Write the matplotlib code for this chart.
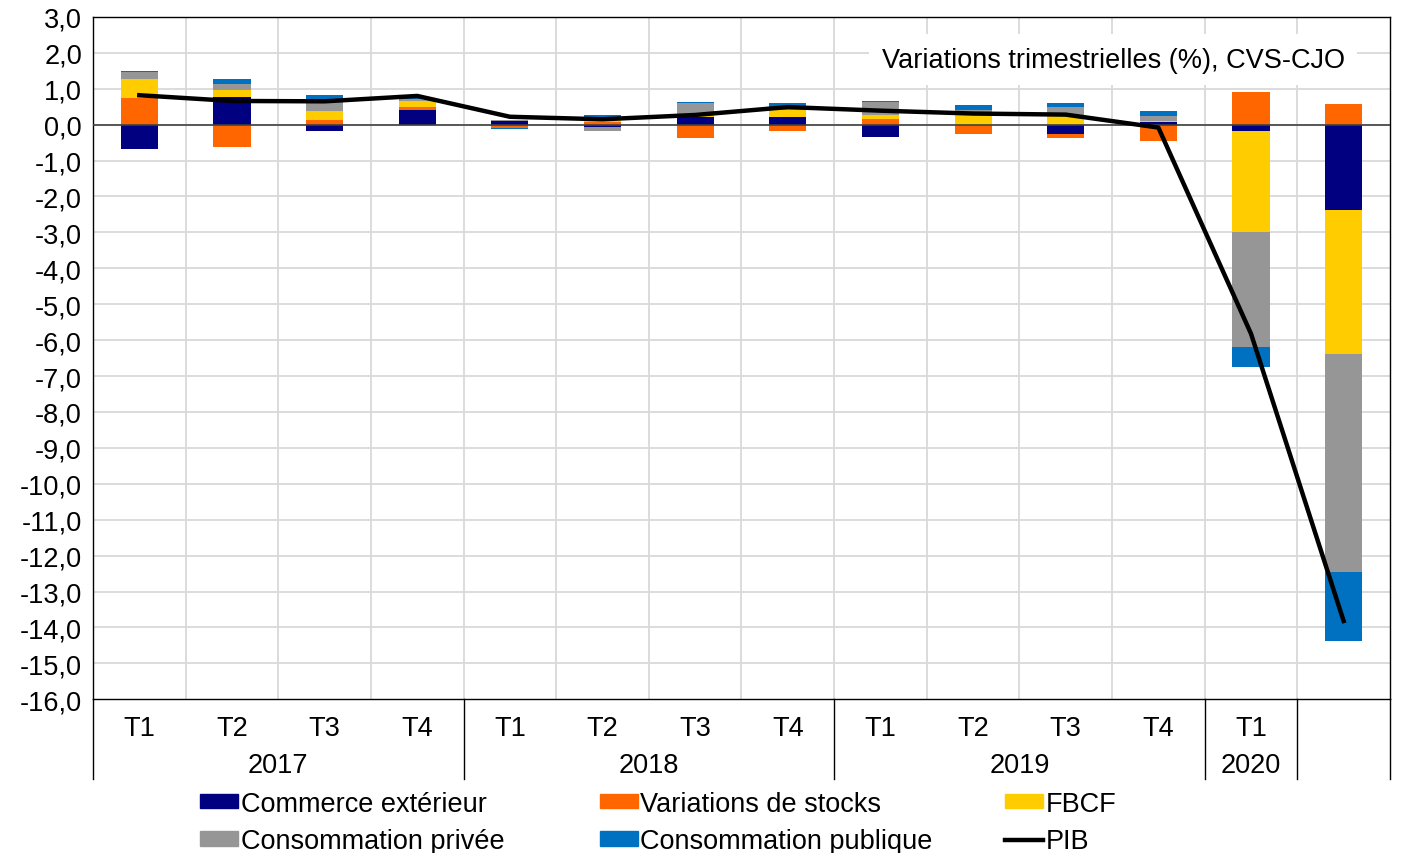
import numpy as np
import matplotlib
matplotlib.use("Agg")
import matplotlib.pyplot as plt
from matplotlib.patches import Patch
from matplotlib.lines import Line2D
import matplotlib.transforms as mtransforms

plt.rcParams["font.family"] = ["Liberation Sans", "DejaVu Sans"]

# ---------------------------------------------------------------------------
# Data (contributions to quarterly GDP growth, %)
# ---------------------------------------------------------------------------
quarters = ["T1", "T2", "T3", "T4", "T1", "T2", "T3", "T4",
            "T1", "T2", "T3", "T4", "T1", ""]
years = ["2017", "2018", "2019", "2020", ""]
year_sizes = [4, 4, 4, 1, 1]

commerce = [-0.69, 0.77, -0.18, 0.42, 0.10, -0.06, 0.21, 0.21,
            -0.34, 0.00, -0.25, 0.07, -0.18, -2.37]
stocks = [0.74, -0.62, 0.14, 0.07, -0.08, 0.08, -0.37, -0.18,
          0.17, -0.25, -0.11, -0.45, 0.91, 0.58]
fbcf = [0.52, 0.20, 0.24, 0.17, 0.00, 0.10, 0.07, 0.19,
        0.11, 0.30, 0.25, 0.04, -2.80, -4.01]
conso_priv = [0.20, 0.16, 0.30, 0.05, 0.04, -0.11, 0.33, 0.10,
              0.35, 0.10, 0.24, 0.14, -3.20, -6.07]
conso_pub = [0.04, 0.13, 0.14, 0.04, -0.05, 0.08, 0.03, 0.11,
             0.03, 0.14, 0.12, 0.12, -0.56, -1.92]
pib = [0.82, 0.66, 0.65, 0.80, 0.22, 0.15, 0.27, 0.49,
       0.39, 0.31, 0.28, -0.08, -5.82, -13.82]

series = [
    ("Commerce extérieur", commerce, "#000080"),
    ("Variations de stocks", stocks, "#FF6600"),
    ("FBCF", fbcf, "#FFCC00"),
    ("Consommation privée", conso_priv, "#969696"),
    ("Consommation publique", conso_pub, "#0070C0"),
]

# ---------------------------------------------------------------------------
# Plot
# ---------------------------------------------------------------------------
FS = 19.5
fig = plt.figure(figsize=(14.03, 8.54), dpi=100)
ax = fig.add_axes([0.0663, 0.18, 0.9244, 0.799])

x = np.arange(len(quarters))
pos_bottom = np.zeros(len(x))
neg_bottom = np.zeros(len(x))
for name, vals, col in series:
    v = np.array(vals)
    bottom = np.where(v >= 0, pos_bottom, neg_bottom)
    ax.bar(x, v, width=0.40, bottom=bottom, color=col, zorder=3)
    pos_bottom += np.where(v >= 0, v, 0)
    neg_bottom += np.where(v < 0, v, 0)

ax.plot(x, pib, color="black", lw=3.2, zorder=4, solid_joinstyle="round")
ax.axhline(0, color="#404040", lw=1.2, zorder=3.5)

ax.set_xlim(-0.5, len(x) - 0.5)
ax.set_ylim(-16, 3)
ax.set_yticks(np.arange(-16, 4, 1))
ax.set_yticklabels([f"{v:.1f}".replace(".", ",") for v in np.arange(-16, 4, 1)],
                   fontsize=FS)
ax.tick_params(axis="y", length=0, pad=8)
ax.set_xticks(x)
ax.set_xticklabels(quarters, fontsize=FS)
ax.tick_params(axis="x", length=0, pad=11)

for yv in np.arange(-15, 4, 1):
    ax.axhline(yv, color="#D9D9D9", lw=1.3, zorder=1)
for xv in x[1:] - 0.5:
    ax.axvline(xv, color="#D9D9D9", lw=1.3, zorder=1)

for s in ax.spines.values():
    s.set_color("black")
    s.set_linewidth(1.0)

# group separators and year labels below the axis
trans = mtransforms.blended_transform_factory(ax.transData, ax.transAxes)
edges = np.concatenate([[0], np.cumsum(year_sizes)]) - 0.5
for e in edges:
    ax.plot([e, e], [0, -0.117], color="black", lw=1.0,
            transform=trans, clip_on=False)
for i, yr in enumerate(years):
    ax.text((edges[i] + edges[i + 1]) / 2, -0.097, yr, transform=trans,
            ha="center", va="center", fontsize=FS)

ax.text(0.965, 0.937, "Variations trimestrielles (%), CVS-CJO",
        transform=ax.transAxes, ha="right", va="center", fontsize=FS,
        zorder=5, bbox=dict(facecolor="white", edgecolor="none", pad=9))

# legend, three columns placed like the original
handles = [Patch(color=c) for _, _, c in series] + \
          [Line2D([0], [0], color="black", lw=3.2)]
labels = [n for n, _, _ in series] + ["PIB"]
cols = [(0, 3), (1, 4), (2, 5)]
xpos = [0.1425, 0.4275, 0.7165]
for (a, b), xp in zip(cols, xpos):
    fig.legend([handles[a], handles[b]], [labels[a], labels[b]],
               loc="upper left", bbox_to_anchor=(xp, 0.073),
               frameon=False, fontsize=FS, handlelength=1.4,
               handleheight=0.45, handletextpad=0.1, labelspacing=0.42,
               borderpad=0, borderaxespad=0)

fig.savefig("out.png", dpi=100)
